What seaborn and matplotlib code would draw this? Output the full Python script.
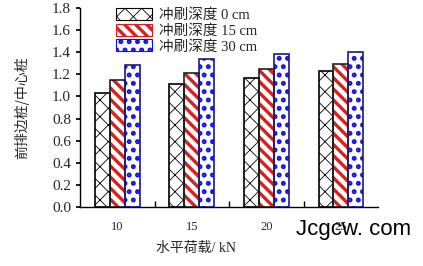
import matplotlib
matplotlib.use("Agg")
import matplotlib.pyplot as plt
import seaborn as sns
import pandas as pd
import numpy as np

categories = ["10", "15", "20", "25"]
series_names = ["冲刷深度 0 cm", "冲刷深度 15 cm", "冲刷深度 30 cm"]
s0 = [1.03, 1.11, 1.17, 1.23]
s15 = [1.15, 1.21, 1.25, 1.29]
s30 = [1.28, 1.34, 1.38, 1.40]
yticks = [0.0, 0.2, 0.4, 0.6, 0.8, 1.0, 1.2, 1.4, 1.6, 1.8]

sns.set_theme(style="white")
plt.rcParams['font.family'] = ['Liberation Serif', 'Noto Sans CJK SC', 'DejaVu Sans']

rows = []
for name, vals in zip(series_names, [s0, s15, s30]):
    for c, v in zip(categories, vals):
        rows.append({"cat": c, "series": name, "val": v})
df = pd.DataFrame(rows)

fig = plt.figure(figsize=(4.23, 2.66), dpi=100)
ax = fig.add_axes([0.189, 0.222, 0.705, 0.748])

sns.barplot(data=df, x="cat", y="val", hue="series", order=categories,
            hue_order=series_names, width=0.6, ax=ax, errorbar=None,
            palette=["white", "white", "white"], saturation=1, legend=False)

styles = [
    dict(hatch="xx", edgecolor="black", hlw=0.6),
    dict(hatch="\\\\\\", edgecolor="#d82020", hlw=2.4),
    dict(hatch="..", edgecolor="#1010e6", hlw=2.3),
]
outline = ["black", "#202020", "#1a1a80"]


def style_patch(p, st):
    p.set_facecolor("white")
    p.set_hatch(st["hatch"])
    p.set_edgecolor(st["edgecolor"])
    p.set_linewidth(0)
    if hasattr(p, "set_hatch_linewidth"):
        p.set_hatch_linewidth(st["hlw"])
    else:
        p._hatch_linewidth = st["hlw"]


for i, cont in enumerate(ax.containers):
    st = styles[i]
    for p in cont.patches:
        style_patch(p, st)
        r = plt.Rectangle(p.get_xy(), p.get_width(), p.get_height(),
                          fill=False, edgecolor=outline[i], linewidth=1.2, zorder=3)
        ax.add_patch(r)

ax.set_ylim(0, 1.8)
ax.set_yticks(yticks)
ax.set_yticklabels([f"{t:.1f}" for t in yticks], fontsize=11)
ax.set_xlim(-0.5, 3.5)
ax.set_xticks(range(len(categories)))
ax.set_xticklabels(categories, fontsize=9)
ax.tick_params(axis="x", length=0, pad=10)
ax.set_xticks(np.arange(0.5, 3.5, 1.0), minor=True)
ax.tick_params(axis="x", which="minor", direction="in", length=4, color="black", bottom=True)
ax.tick_params(axis="y", direction="out", length=3, color="black", left=True)

for s in ["top", "right"]:
    ax.spines[s].set_visible(False)
for s in ["left", "bottom"]:
    ax.spines[s].set_color("black")
    ax.spines[s].set_linewidth(1.0)

ax.set_ylabel("前排边桩/中心桩", fontsize=10, family=['Noto Sans CJK SC', 'DejaVu Sans'])
ax.yaxis.set_label_coords(-0.17, 0.5)
ax.set_xlabel("水平荷载/ kN", fontsize=10)
ax.xaxis.set_label_coords(0.39, -0.175)

leg_handles = []
for i in range(3):
    p = matplotlib.patches.Patch(facecolor="white", hatch=styles[i]["hatch"],
                                 edgecolor=styles[i]["edgecolor"], linewidth=0)
    leg_handles.append(p)
leg = ax.legend(leg_handles, series_names, loc="upper left", bbox_to_anchor=(0.085, 1.05),
                frameon=False, fontsize=10.5, handlelength=2.5, handleheight=0.9,
                labelspacing=0.1, handletextpad=0.5, borderpad=0.2)
for i, h in enumerate(leg.legend_handles):
    style_patch(h, styles[i])
    h.set_linewidth(0.8)
    h.set_edgecolor(styles[i]["edgecolor"])

fig.text(0.70, 0.115, "Jcgcw. com", fontsize=16, family="Liberation Sans", color="black")

fig.savefig("out.png", dpi=100)
